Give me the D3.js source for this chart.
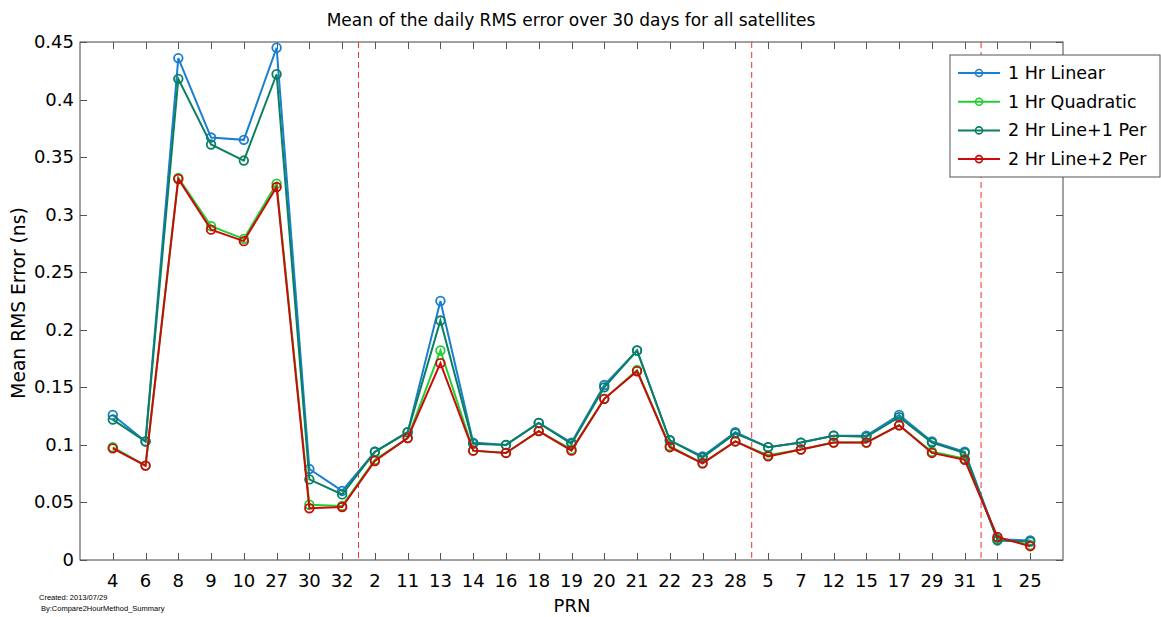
<!DOCTYPE html>
<html>
<head>
<meta charset="utf-8">
<script src="https://cdn.jsdelivr.net/npm/d3@7"></script>
<style>
  body { margin: 0; background: #fff; }
  svg { font-family: "DejaVu Sans", sans-serif; }
</style>
</head>
<body>
<svg id="chart" width="1161" height="617"></svg>
<script>
const prns = ["4","6","8","9","10","27","30","32","2","11","13","14","16","18","19","20","21","22","23","28","5","7","12","15","17","29","31","1","25"];

const linear1 =    [0.126,0.103,0.436,0.367,0.365,0.445,0.079,0.060,0.094,0.111,0.225,0.102,0.100,0.119,0.102,0.152,0.182,0.104,0.090,0.111,0.098,0.102,0.108,0.108,0.126,0.103,0.094,0.018,0.017];
const quadratic1 = [0.098,0.082,0.332,0.290,0.279,0.327,0.048,0.047,0.087,0.106,0.182,0.095,0.093,0.112,0.096,0.140,0.165,0.099,0.084,0.103,0.091,0.096,0.102,0.102,0.117,0.094,0.088,0.019,0.013];
const linePer1 =   [0.122,0.103,0.418,0.361,0.347,0.422,0.070,0.057,0.094,0.111,0.208,0.101,0.100,0.119,0.101,0.150,0.182,0.104,0.089,0.110,0.098,0.102,0.108,0.107,0.124,0.102,0.093,0.017,0.016];
const linePer2 =   [0.097,0.082,0.331,0.287,0.277,0.324,0.045,0.046,0.086,0.106,0.171,0.095,0.093,0.112,0.095,0.140,0.164,0.098,0.084,0.103,0.090,0.096,0.102,0.102,0.117,0.093,0.087,0.020,0.012];

const seriesNames = ["1 Hr Linear", "1 Hr Quadratic", "2 Hr Line+1 Per", "2 Hr Line+2 Per"];
const seriesColors = ["#1a7fd0", "#1fd030", "#0b8060", "#cc0a0a"];
const yTicks = [0, 0.05, 0.1, 0.15, 0.2, 0.25, 0.3, 0.35, 0.4, 0.45];
// dashed separators sit between these PRN groups
const groupBreaks = [8.5, 20.5, 27.5];

const series = [linear1, quadratic1, linePer1, linePer2].map((vals, i) => ({
    name: seriesNames[i], color: seriesColors[i], values: vals
}));

const svg = d3.select("#chart");
const m = { left: 80, right: 1063, top: 42, bottom: 560 };

let x = d3.scaleLinear().domain([0, prns.length + 1]).range([m.left, m.right]);
let y = d3.scaleLinear().domain([0, 0.45]).range([m.bottom, m.top]);

// axes box
svg.append("rect")
    .attr("x", m.left).attr("y", m.top)
    .attr("width", m.right - m.left).attr("height", m.bottom - m.top)
    .attr("fill", "none").attr("stroke", "#444").attr("stroke-width", 1);

let tickLen = 7;
let gTicks = svg.append("g").attr("stroke", "#555").attr("stroke-width", 1);
prns.forEach((p, i) => {
    let px = Math.round(x(i + 1)) + 0.5;
    gTicks.append("line").attr("x1", px).attr("x2", px).attr("y1", m.bottom).attr("y2", m.bottom - tickLen);
    gTicks.append("line").attr("x1", px).attr("x2", px).attr("y1", m.top).attr("y2", m.top + tickLen);
});
yTicks.forEach(t => {
    let py = Math.round(y(t)) + 0.5;
    gTicks.append("line").attr("x1", m.left).attr("x2", m.left + tickLen).attr("y1", py).attr("y2", py);
    gTicks.append("line").attr("x1", m.right).attr("x2", m.right - tickLen).attr("y1", py).attr("y2", py);
});

// tick labels
svg.append("g").selectAll("text").data(prns).enter().append("text")
    .attr("x", (d, i) => x(i + 1))
    .attr("y", 587)
    .attr("text-anchor", "middle")
    .attr("font-size", 18)
    .text(d => d);

svg.append("g").selectAll("text").data(yTicks).enter().append("text")
    .attr("x", 74)
    .attr("y", d => y(d) + 6)
    .attr("text-anchor", "end")
    .attr("font-size", 18)
    .text(d => d3.format("~g")(d));

// group separators
svg.append("g").selectAll("line").data(groupBreaks).enter().append("line")
    .attr("x1", d => x(d)).attr("x2", d => x(d))
    .attr("y1", m.top).attr("y2", m.bottom)
    .attr("stroke", "#f03030").attr("stroke-width", 1)
    .attr("stroke-dasharray", "6,4");

// series
let line = d3.line().x((d, i) => x(i + 1)).y(d => y(d));
let gSeries = svg.append("g").selectAll("g").data(series).enter().append("g");
gSeries.append("path")
    .attr("d", d => line(d.values))
    .attr("fill", "none")
    .attr("stroke", d => d.color)
    .attr("stroke-width", 2);
gSeries.each(function (s) {
    d3.select(this).selectAll("circle").data(s.values).enter().append("circle")
        .attr("cx", (d, i) => x(i + 1))
        .attr("cy", d => y(d))
        .attr("r", 4.3)
        .attr("fill", "none")
        .attr("stroke", s.color)
        .attr("stroke-width", 1.8);
});

// legend
let lg = svg.append("g").attr("transform", "translate(950,55)");
lg.append("rect").attr("width", 210).attr("height", 122)
    .attr("fill", "#fff").attr("stroke", "#555").attr("stroke-width", 1);
let items = lg.selectAll("g.item").data(series).enter().append("g")
    .attr("class", "item")
    .attr("transform", (d, i) => `translate(0,${18 + i * 28.7})`);
items.append("line").attr("x1", 8).attr("x2", 50).attr("y1", 0).attr("y2", 0)
    .attr("stroke", d => d.color).attr("stroke-width", 2);
items.append("circle").attr("cx", 29).attr("cy", 0).attr("r", 3.5)
    .attr("fill", "none").attr("stroke", d => d.color).attr("stroke-width", 1.6);
items.append("text").attr("x", 58).attr("y", 6).attr("font-size", 17.5).text(d => d.name);

// titles
svg.append("text").attr("x", 571).attr("y", 26).attr("text-anchor", "middle")
    .attr("font-size", 17).text("Mean of the daily RMS error over 30 days for all satellites");
svg.append("text").attr("x", 572).attr("y", 612).attr("text-anchor", "middle")
    .attr("font-size", 18).text("PRN");
svg.append("text").attr("transform", "translate(25,303) rotate(-90)")
    .attr("text-anchor", "middle").attr("font-size", 18.7).text("Mean RMS Error (ns)");
svg.append("text").attr("x", 39).attr("y", 600).attr("font-size", 7.5)
    .attr("font-family", "Liberation Sans, sans-serif").text("Created: 2013/07/29");
svg.append("text").attr("x", 41).attr("y", 611).attr("font-size", 7.5)
    .attr("font-family", "Liberation Sans, sans-serif").text("By:Compare2HourMethod_Summary");
</script>
</body>
</html>
